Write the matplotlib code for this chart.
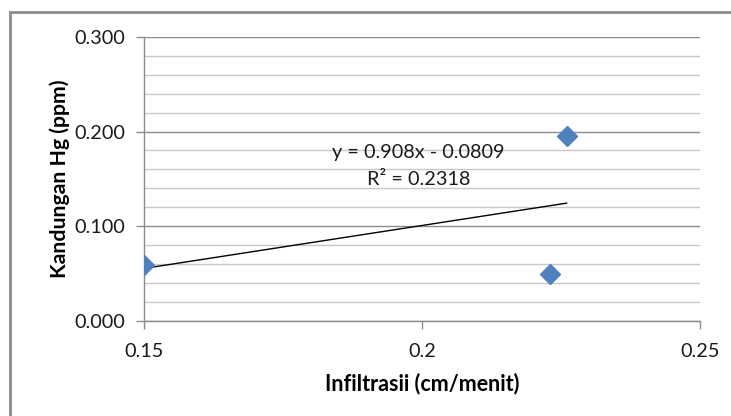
import matplotlib.pyplot as plt
import numpy as np
from matplotlib.patches import Rectangle

# Datos
infiltrasi = [0.150, 0.223, 0.226]   # cm/menit
kandungan_hg = [0.059, 0.049, 0.195]  # ppm
pendiente = 0.908
intercepto = -0.0809
ecuacion = "y = 0.908x - 0.0809"
r_cuadrado = "R² = 0.2318"
xticks = [0.15, 0.2, 0.25]
yticks = [0.0, 0.1, 0.2, 0.3]

plt.rcParams['font.family'] = ['Lato', 'DejaVu Sans']

fig = plt.figure(figsize=(7.31, 4.16), dpi=100)
ax = fig.add_axes([0.1974, 0.2291, 0.7602, 0.682])

# Rejilla menor y mayor (estilo Excel)
ax.set_xlim(0.15, 0.25)
ax.set_ylim(0, 0.3)
ax.set_yticks(np.arange(0, 0.3001, 0.02), minor=True)
ax.grid(True, which="minor", axis="y", color="#c8c8c8", linewidth=1)
ax.grid(True, which="major", axis="y", color="#8c8c8c", linewidth=1)
ax.set_axisbelow(True)

# Línea de tendencia sobre el rango de los datos
xt = np.array([min(infiltrasi), max(infiltrasi)])
ax.plot(xt, pendiente * xt + intercepto, color="black", linewidth=1, zorder=3)

ax.plot(infiltrasi, kandungan_hg, linestyle="none", marker="D", markersize=10.5,
        color="#4f81bd", markeredgecolor="#4f81bd", zorder=4)

ax.text(0.1993, 0.1775, ecuacion, ha="center", va="center", fontsize=14.3, color="#1a1a1a")
ax.text(0.1993, 0.149, r_cuadrado, ha="center", va="center", fontsize=14.3, color="#1a1a1a")

ax.set_xticks(xticks)
ax.set_xticklabels(["0.15", "0.2", "0.25"])
ax.set_yticks(yticks)
ax.set_yticklabels([f"{v:.3f}" for v in yticks])
ax.tick_params(axis="both", which="major", labelsize=14.3, colors="#1a1a1a", length=6, width=1)
ax.tick_params(axis="both", which="major", color="#8c8c8c")
ax.tick_params(axis="y", which="minor", length=0)
ax.tick_params(axis="x", pad=10)
ax.tick_params(axis="y", pad=8)

for lado in ["top", "right"]:
    ax.spines[lado].set_visible(False)
for lado in ["left", "bottom"]:
    ax.spines[lado].set_color("#8c8c8c")
    ax.spines[lado].set_linewidth(1)

ax.set_xlabel("Infiltrasii (cm/menit)", fontsize=15.5, fontweight="bold", labelpad=9)
ax.set_ylabel("Kandungan Hg (ppm)", fontsize=15.3, fontweight="bold", labelpad=3)

# Marco del gráfico (solo se ven los bordes superior e izquierdo)
fig.patches.append(Rectangle((10 / 731, -0.1), 1.2, 1 - 12 / 416 + 0.1, transform=fig.transFigure,
                             fill=False, edgecolor="#8c8c8c", linewidth=2))

fig.savefig("out.png", dpi=100)
